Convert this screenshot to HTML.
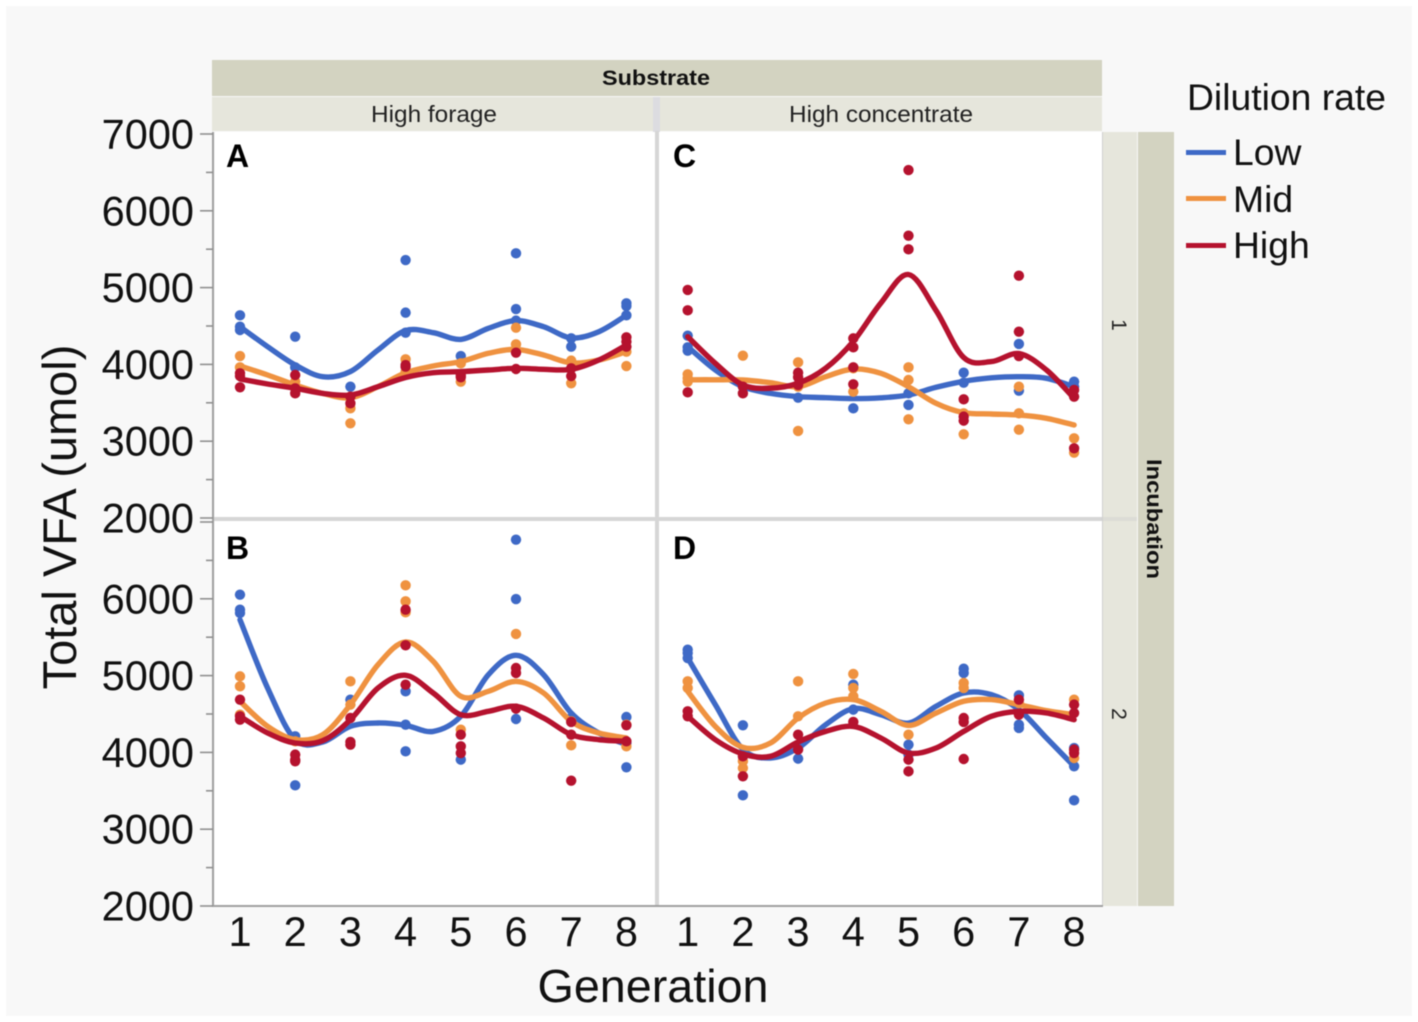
<!DOCTYPE html>
<html lang="en">
<head>
<meta charset="utf-8">
<title>Total VFA by generation</title>
<style>
html,body{margin:0;padding:0;background:#fff;}
svg{display:block;font-family:"Liberation Sans",Arial,sans-serif;filter:blur(0.4px);}
</style>
</head>
<body>
<svg id="chart" xmlns="http://www.w3.org/2000/svg" width="1418" height="1022" viewBox="0 0 1418 1022">
  <rect x="0" y="0" width="1418" height="1022" fill="#ffffff"/>
  <rect x="6" y="6" width="1406" height="1010" fill="#f8f8f8"/>

  <rect x="212" y="60" width="890" height="36" fill="#d3d3c1"/>
  <text x="656" y="85" text-anchor="middle" font-size="21" font-weight="bold" textLength="108" lengthAdjust="spacingAndGlyphs" fill="#111">Substrate</text>
  <rect x="653" y="97" width="7" height="35" fill="#dcdce0"/>
  <rect x="212" y="97" width="441" height="34" fill="#e6e6dc"/>
  <text x="434" y="122" text-anchor="middle" font-size="23" textLength="126" lengthAdjust="spacingAndGlyphs" fill="#222">High forage</text>
  <rect x="660" y="97" width="442" height="34" fill="#e6e6dc"/>
  <text x="881" y="122" text-anchor="middle" font-size="23" textLength="184" lengthAdjust="spacingAndGlyphs" fill="#222">High concentrate</text>

  <rect x="1138" y="132" width="36" height="774" fill="#d3d3c1"/>
  <rect x="1103" y="132" width="34" height="385" fill="#e6e6dc"/>
  <rect x="1103" y="517" width="34" height="4" fill="#dcdcd6"/>
  <rect x="1103" y="521" width="34" height="385" fill="#e6e6dc"/>
  <text transform="translate(1147,519) rotate(90)" text-anchor="middle" font-size="21" font-weight="bold" textLength="120" lengthAdjust="spacingAndGlyphs" fill="#111">Incubation</text>
  <text transform="translate(1112,325) rotate(90)" text-anchor="middle" font-size="21" fill="#222">1</text>
  <text transform="translate(1112,714) rotate(90)" text-anchor="middle" font-size="21" fill="#222">2</text>

  <rect x="215" y="132" width="440" height="385" fill="#ffffff"/>
  <rect x="659" y="132" width="443" height="385" fill="#ffffff"/>
  <rect x="215" y="521" width="440" height="385" fill="#ffffff"/>
  <rect x="659" y="521" width="443" height="385" fill="#ffffff"/>
  <rect x="655" y="131" width="4" height="775" fill="#d6d6d6"/>
  <rect x="213" y="517" width="889" height="4" fill="#d6d6d6"/>
  <rect x="1102" y="132" width="1" height="774" fill="#d0d0d0"/>
  <rect x="212" y="132" width="2" height="775" fill="#a0a0a0"/>
  <rect x="212" y="905" width="891" height="2" fill="#a0a0a0"/>

  <g id="axes"></g>
  <g id="marks"></g>

  <text x="226" y="167" font-size="32" font-weight="bold" fill="#000">A</text>
  <text x="226" y="559" font-size="32" font-weight="bold" fill="#000">B</text>
  <text x="673" y="167" font-size="32" font-weight="bold" fill="#000">C</text>
  <text x="673" y="559" font-size="32" font-weight="bold" fill="#000">D</text>

  <text transform="translate(76,517) rotate(-90)" text-anchor="middle" font-size="47" fill="#111">Total VFA (umol)</text>
  <text x="653" y="1002" text-anchor="middle" font-size="46.7" fill="#111">Generation</text>

  <g>
    <text x="1187" y="110" font-size="37.3" fill="#111">Dilution rate</text>
    <rect x="1186" y="150" width="40" height="5" fill="#3e69c6"/>
    <text x="1233" y="165" font-size="37.3" fill="#111">Low</text>
    <rect x="1186" y="196" width="40" height="5" fill="#ef9240"/>
    <text x="1233" y="212" font-size="37.3" fill="#111">Mid</text>
    <rect x="1186" y="243" width="40" height="5" fill="#b5122e"/>
    <text x="1233" y="258" font-size="37.3" fill="#111">High</text>
  </g>
</svg>
<script>
// Tick labels and categories
const generations = [1, 2, 3, 4, 5, 6, 7, 8];
const topRowTicks = [7000, 6000, 5000, 4000, 3000, 2000];
const bottomRowTicks = [6000, 5000, 4000, 3000, 2000];
const bottomRowUnlabelledTicks = [7000];

// Smooth-curve readings at generation 1, 1.5, 2, ... 8
const curveGenerations = [1, 1.5, 2, 2.5, 3, 3.5, 4, 4.5, 5, 5.5, 6, 6.5, 7, 7.5, 8];

const aLowCurve = [4491, 4231, 3992, 3840, 3906, 4188, 4440, 4413, 4326, 4470, 4570, 4491, 4345, 4426, 4640];
const aMidCurve = [3979, 3862, 3732, 3623, 3567, 3710, 3890, 3979, 4036, 4144, 4195, 4122, 4020, 4057, 4166];
const aHighCurve = [3810, 3745, 3689, 3623, 3602, 3710, 3830, 3892, 3906, 3927, 3949, 3936, 3936, 4057, 4253];

const bLowCurve = [5728, 4839, 4166, 4136, 4340, 4383, 4353, 4274, 4470, 5012, 5264, 5012, 4513, 4253, 4101];
const bMidCurve = [4665, 4339, 4166, 4231, 4622, 5142, 5438, 5186, 4730, 4795, 4925, 4774, 4405, 4253, 4188];
const bHighCurve = [4470, 4253, 4122, 4153, 4426, 4839, 5004, 4774, 4491, 4535, 4600, 4448, 4231, 4166, 4144];

const cLowCurve = [4231, 3927, 3710, 3623, 3580, 3567, 3555, 3565, 3602, 3702, 3780, 3825, 3840, 3819, 3710];
const cMidCurve = [3800, 3800, 3797, 3762, 3710, 3840, 3940, 3884, 3710, 3493, 3372, 3354, 3340, 3298, 3211];
const cHighCurve = [4361, 4014, 3732, 3690, 3755, 3950, 4300, 4800, 5170, 4700, 4090, 4036, 4140, 3927, 3558];

const dLowCurve = [5229, 4622, 4040, 3927, 4057, 4361, 4570, 4491, 4383, 4600, 4774, 4752, 4557, 4188, 3819];
const dMidCurve = [4795, 4339, 4066, 4122, 4448, 4643, 4687, 4535, 4352, 4513, 4665, 4687, 4622, 4543, 4491];
const dHighCurve = [4470, 4166, 3979, 3949, 4136, 4274, 4339, 4188, 3992, 4057, 4274, 4470, 4535, 4513, 4426];

// Observed points, one inner array per generation
const aLowPoints = [[4639, 4491, 4448], [4361, 3962], [3710], [5359, 4674, 4413], [4109], [5446, 4721, 4570], [4340, 4231], [4795, 4760, 4639]];
const aMidPoints = [[4109, 3962], [3775], [3428, 3233, 3580], [4066, 3905], [3775, 4014], [4478, 4261, 4188], [3754, 4049], [3979, 4166]];
const aHighPoints = [[3884, 3849, 3702], [3862, 3623, 3689], [3580, 3493], [3970, 3992], [3862, 3832], [4153, 3940], [3949, 3849], [4353, 4296, 4231]];

const bLowPoints = [[6054, 5858, 5815], [4209, 3571], [4687], [4795, 4361, 4014], [3906], [6770, 5997, 4435], [4448], [4461, 4122, 3806]];
const bMidPoints = [[4990, 4860, 4491], [4144], [4925, 4622], [6175, 5967, 5824], [4296], [5542], [4092, 4405], [4079, 4361]];
const bHighPoints = [[4687, 4470, 4426], [3971, 3906, 3884], [4448, 4136, 4101], [5858, 5394, 4882], [4231, 4079, 3992], [5099, 5034, 4570], [4396, 4231, 3632], [4353, 4144]];

const cLowPoints = [[4374, 4222, 4179], [3710], [3567], [3428], [3472, 3623], [3892, 3762], [4266, 3658], [3775, 3710]];
const cMidPoints = [[3871, 3775, 3819], [4114], [4027, 3133, 3710], [3949, 3645], [3962, 3285, 3797], [3090, 3363], [3710, 3150, 3363], [3038, 2851]];
const cHighPoints = [[4969, 4704, 3636], [3710, 3623], [3892, 3832, 3732], [4339, 4222, 3962, 3741], [6531, 5676, 5498], [3545, 3320, 3268], [5155, 4426, 4109], [3667, 3580, 2907]];

const dLowPoints = [[5338, 5294, 5229], [4353, 3441], [3919, 4057], [4882, 4557], [4101, 3971], [5090, 5034], [4743, 4318, 4361], [4057, 3819, 3376]];
const dMidPoints = [[4925, 4839], [3884, 3797], [4925, 4470], [5021, 4839, 4730], [4231], [4904, 4839], [4643], [4687, 3927]];
const dHighPoints = [[4535, 4470], [3949, 3689], [4231, 4036], [4396], [3906, 3753], [4448, 4396, 3914], [4687, 4491], [4622, 4513, 4036, 3992]];

const seriesNames = ['low', 'mid', 'high'];
const seriesColors = ['#3e69c6', '#ef9240', '#b5122e'];

const NS = 'http://www.w3.org/2000/svg';
const axesGroup = document.getElementById('axes');
const marksGroup = document.getElementById('marks');

// Axis functions
function xScale(col, gen) {
  const origin = col === 0 ? 240 : 687.7;
  return origin + (gen - 1) * 55.2;
}
function yScale(row, value) {
  const baseline = row === 0 ? 518 : 906;
  return baseline - (value - 2000) * 0.0768;
}

function splinePath(xs, ys) {
  let d = 'M' + xs[0].toFixed(1) + ' ' + ys[0].toFixed(1);
  for (let i = 0; i < xs.length - 1; i++) {
    const p0 = Math.max(i - 1, 0);
    const p3 = Math.min(i + 2, xs.length - 1);
    const c1x = xs[i] + (xs[i + 1] - xs[p0]) / 6;
    const c1y = ys[i] + (ys[i + 1] - ys[p0]) / 6;
    const c2x = xs[i + 1] - (xs[p3] - xs[i]) / 6;
    const c2y = ys[i + 1] - (ys[p3] - ys[i]) / 6;
    d += 'C' + c1x.toFixed(1) + ' ' + c1y.toFixed(1) + ' ' + c2x.toFixed(1) + ' ' + c2y.toFixed(1) + ' ' + xs[i + 1].toFixed(1) + ' ' + ys[i + 1].toFixed(1);
  }
  return d;
}

function drawMajorTick(row, tick) {
  const y = yScale(row, tick);
  const mark = document.createElementNS(NS, 'line');
  
  
  mark.setAttribute('x1', 200);
  mark.setAttribute('x2', 213);
  mark.setAttribute('y1', y);
  mark.setAttribute('y2', y);
  mark.setAttribute('stroke', '#8f8f8f');
  mark.setAttribute('stroke-width', 1.6);
  axesGroup.appendChild(mark);

  const minorValue = tick - 500;
  if (minorValue >= 2000) {
    const minor = document.createElementNS(NS, 'line');
    
    
    minor.setAttribute('x1', 206);
    minor.setAttribute('x2', 213);
    minor.setAttribute('y1', yScale(row, minorValue));
    minor.setAttribute('y2', yScale(row, minorValue));
    minor.setAttribute('stroke', '#8f8f8f');
    minor.setAttribute('stroke-width', 1.6);
    axesGroup.appendChild(minor);
  }
}

function drawYAxis(row, ticks) {
  ticks.forEach(function (tick) {
    drawMajorTick(row, tick);
    const label = document.createElementNS(NS, 'text');
    
    
    label.setAttribute('x', 194);
    label.setAttribute('y', yScale(row, tick) + 14.5);
    label.setAttribute('text-anchor', 'end');
    label.setAttribute('font-size', 41.5);
    label.setAttribute('fill', '#111');
    label.textContent = tick;
    axesGroup.appendChild(label);
  });
}

function drawXAxis(col) {
  generations.forEach(function (gen) {
    const label = document.createElementNS(NS, 'text');
    
    
    label.setAttribute('x', xScale(col, gen));
    label.setAttribute('y', 946);
    label.setAttribute('text-anchor', 'middle');
    label.setAttribute('font-size', 41.5);
    label.setAttribute('fill', '#111');
    label.textContent = gen;
    axesGroup.appendChild(label);
  });
}

function drawSeries(panelName, col, row, seriesIndex, points, curve) {
  const color = seriesColors[seriesIndex];
  const name = seriesNames[seriesIndex];
  points.forEach(function (values, genIndex) {
    values.forEach(function (value) {
      const dot = document.createElementNS(NS, 'circle');
      
      
      dot.setAttribute('cx', xScale(col, generations[genIndex]));
      dot.setAttribute('cy', yScale(row, value));
      dot.setAttribute('r', 5.2);
      dot.setAttribute('fill', color);
      marksGroup.appendChild(dot);
    });
  });
  const xs = curveGenerations.map(function (g) { return xScale(col, g); });
  const ys = curve.map(function (v) { return yScale(row, v); });
  const line = document.createElementNS(NS, 'path');
  
  
  line.setAttribute('d', splinePath(xs, ys));
  line.setAttribute('fill', 'none');
  line.setAttribute('stroke', color);
  line.setAttribute('stroke-width', 5.4);
  line.setAttribute('stroke-linecap', 'round');
  line.setAttribute('stroke-linejoin', 'round');
  marksGroup.appendChild(line);
}

drawYAxis(0, topRowTicks);
drawYAxis(1, bottomRowTicks);
bottomRowUnlabelledTicks.forEach(function (tick) { drawMajorTick(1, tick); });
drawXAxis(0);
drawXAxis(1);

drawSeries('a', 0, 0, 0, aLowPoints, aLowCurve);
drawSeries('a', 0, 0, 1, aMidPoints, aMidCurve);
drawSeries('a', 0, 0, 2, aHighPoints, aHighCurve);

drawSeries('b', 0, 1, 0, bLowPoints, bLowCurve);
drawSeries('b', 0, 1, 1, bMidPoints, bMidCurve);
drawSeries('b', 0, 1, 2, bHighPoints, bHighCurve);

drawSeries('c', 1, 0, 0, cLowPoints, cLowCurve);
drawSeries('c', 1, 0, 1, cMidPoints, cMidCurve);
drawSeries('c', 1, 0, 2, cHighPoints, cHighCurve);

drawSeries('d', 1, 1, 0, dLowPoints, dLowCurve);
drawSeries('d', 1, 1, 1, dMidPoints, dMidCurve);
drawSeries('d', 1, 1, 2, dHighPoints, dHighCurve);
</script>
</body>
</html>
